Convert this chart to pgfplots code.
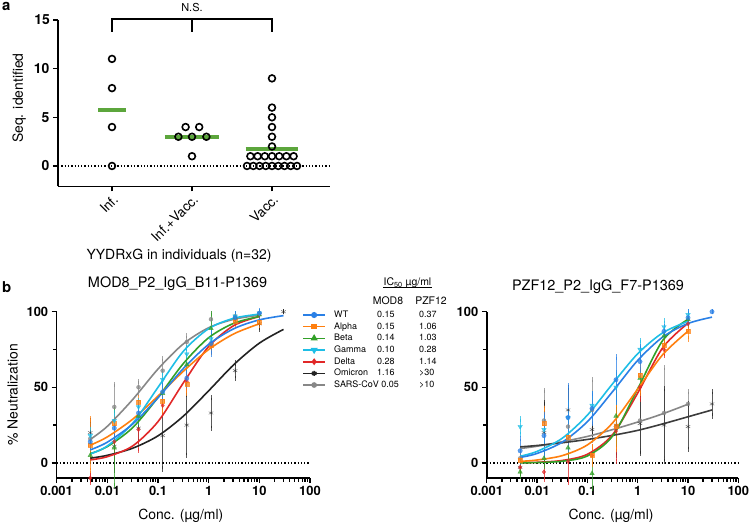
\documentclass[border=0pt]{standalone}
\usepackage{pgfplots}
\pgfplotsset{compat=1.18}
\usepackage{fontspec}
\setmainfont{TeX Gyre Heros}
\definecolor{cWT}{RGB}{42,128,230}
\definecolor{cAl}{RGB}{255,127,14}
\definecolor{cBe}{RGB}{50,160,40}
\definecolor{cGa}{RGB}{30,190,230}
\definecolor{cDe}{RGB}{225,40,40}
\definecolor{cOm}{RGB}{35,35,35}
\definecolor{cOmR}{RGB}{60,60,60}
\definecolor{cSA}{RGB}{135,135,135}
\definecolor{cMean}{RGB}{92,166,60}
\pgfplotsset{
 sWT/.style={color=cWT, mark=*, mark size=2.2bp},
 sAl/.style={color=cAl, mark=square*, mark size=2bp},
 sBe/.style={color=cBe, mark=triangle*, mark size=2.6bp},
 sGa/.style={color=cGa, mark=triangle*, mark size=2.6bp, mark options={rotate=180}},
 sDe/.style={color=cDe, mark=diamond*, mark size=2.2bp},
 sOm/.style={color=cOm, mark=asterisk, mark size=2.6bp},
 sSA/.style={color=cSA, mark=*, mark size=2bp},
 pts/.style={only marks, opacity=0.75, error bars/y dir=both, error bars/y explicit,
   error bars/error mark=|,
   error bars/error bar style={line width=0.9bp},
   error bars/error mark options={rotate=90, mark size=2.6bp, line width=0.9bp}},
 crv/.style={smooth, no markers, line width=1.6bp},
 leg/.style={line width=1.6bp, mark indices={2}},
 baseax/.style={scale only axis, anchor=south west, axis lines=left, clip=false,
   axis line style={line width=1.5bp,-}, tick align=outside,
   major tick length=5bp, minor tick length=3.5bp,
   every tick/.style={line width=1.3bp, black},
   label style={font=\fontsize{14}{16}\selectfont},
   title style={font=\fontsize{14.5}{16}\selectfont}},
 logax/.style={baseax, xmin=0.001, xmax=100, ymin=-10, ymax=100,
   width=253.3bp, height=166.3bp,
   ytick={0,50,100}, minor ytick={25,75},
   yticklabels={0,50,100},
   xtick={0.001,0.01,0.1,1,10,100}, xticklabels={0.001,0.01,0.1,1,10,100},
   minor xtick={0.002,0.003,0.004,0.005,0.006,0.007,0.008,0.009,0.02,0.03,0.04,0.05,0.06,0.07,0.08,0.09,0.2,0.3,0.4,0.5,0.6,0.7,0.8,0.9,2,3,4,5,6,7,8,9,20,30,40,50,60,70,80,90},
   xticklabel style={font=\fontsize{13}{15}\selectfont\bfseries},
   yticklabel style={font=\fontsize{13}{15}\selectfont\bfseries},
   xlabel={Conc. (µg/ml)}},
}
\tikzset{lt/.style={anchor=west, inner sep=0pt, text height=6.5bp, text depth=1.8bp, font=\fontsize{9}{10}\selectfont}}
\begin{document}
\begin{tikzpicture}
\useasboundingbox (0,0) rectangle (749bp,525bp);
% ---------------- panel a
\begin{axis}[baseax, at={(58bp,338.6bp)}, width=272bp, height=166.6bp,
  xmin=-0.675, xmax=2.725, ymin=-2.1, ymax=15.02,
  xtick={0,1,2}, xticklabels={Inf.,Inf.+Vacc.,Vacc.}, ytick={0,5,10}, yticklabels={\textbf{0},\textbf{5},\textbf{10}},
  xticklabel style={rotate=45, anchor=north east, inner sep=1.5bp, font=\fontsize{13.5}{15}\selectfont},
  yticklabel style={font=\fontsize{14}{16}\selectfont\bfseries},
  ylabel={Seq. identified}, ylabel style={at={(axis description cs:-0.143,0.53)}, anchor=center},
  xlabel={YYDRxG in individuals (n=32)}, xlabel style={at={(axis description cs:0.445,-0.416)}, anchor=center}]
\addplot[black, line width=1.3bp, dash pattern=on 1.3bp off 2bp] coordinates {(-0.675,0) (2.725,0)};
\addplot[cMean, line width=4bp] coordinates {(-0.17,5.76) (0.17,5.76)};
\addplot[cMean, line width=4bp] coordinates {(0.66,3.0) (1.34,3.0)};
\addplot[cMean, line width=4bp] coordinates {(1.67,1.72) (2.33,1.72)};
\addplot[only marks, black, mark=o, mark size=3.4bp, mark options={line width=1.6bp}] coordinates {
 (0,11) (0,8) (0,4) (0,0)
 (0.92,4) (1.09,4) (0.83,3) (1,3) (1.18,3) (1,1)
 (2,9) (2,6) (2,5) (2,4) (2,3) (2,2)
 (1.73,1) (1.82,1) (1.91,1) (2,1) (2.09,1) (2.18,1) (2.27,1)
 (1.6875,0) (1.766,0) (1.844,0) (1.922,0) (2,0) (2.078,0) (2.156,0) (2.234,0) (2.3125,0)};
\draw[line width=1.3bp] (axis cs:0,13.8) -- (axis cs:0,15.1) -- (axis cs:2,15.1) -- (axis cs:2,13.8);
\draw[line width=1.3bp] (axis cs:1,15.1) -- (axis cs:1,13.8);
\node[font=\fontsize{11}{12}\selectfont] at (axis cs:1,16.3) {N.S.};
\end{axis}
% ---------------- panel b left
\begin{semilogxaxis}[logax, at={(56.7bp,47bp)},
  title={MOD8\_P2\_IgG\_B11-P1369}, title style={at={(axis description cs:0.477,1.13)}, anchor=center},
  ylabel={\% Neutralization}, ylabel style={at={(axis description cs:-0.174,0.5)}, anchor=center},
  xlabel style={at={(axis description cs:0.49,-0.228)}, anchor=center}]
\addplot[black, line width=1.3bp, dash pattern=on 1.3bp off 2bp] coordinates {(0.001,0) (100,0)};
% points
\addplot[sSA, pts] coordinates {(0.0046,16) +- (0,4) (0.0137,37) +- (0,15) (0.0412,50) +- (0,4) (0.1235,61) +- (0,8) (0.37,80) +- (0,4) (1.11,95) +- (0,4) (3.33,97) +- (0,2) (10,99) +- (0,1)};
\addplot[sOm, pts] coordinates {(0.0046,20) +- (0,8) (0.0137,11) +- (0,16) (0.0412,23) +- (0,9) (0.1235,18) +- (0,22) (0.37,25) +- (0,20) (1.11,33) +- (0,10) (3.33,61) +- (0,5) (10,92) +- (0,4) (30,100) +- (0,0)};
\addplot[sDe, pts] coordinates {(0.0046,-10) +- (0,3) (0.0137,14) +- (0,8) (0.0412,22) +- (0,14) (0.1235,38) +- (0,6) (0.37,54) +- (0,6) (1.11,78) +- (0,4) (3.33,95) +- (0,3) (10,98) +- (0,2)};
\addplot[sBe, pts] coordinates {(0.0046,5) +- (0,3) (0.0137,10) +- (0,25) (0.0412,31) +- (0,7) (0.1235,46) +- (0,5) (0.37,65) +- (0,5) (1.11,89) +- (0,10) (3.33,96) +- (0,2) (10,98) +- (0,2)};
\addplot[sAl, pts] coordinates {(0.0046,12) +- (0,17) (0.0137,26) +- (0,5) (0.0412,40) +- (0,3) (0.1235,41) +- (0,8) (0.37,52) +- (0,6) (1.11,78) +- (0,5) (3.33,94) +- (0,3) (10,93) +- (0,2)};
\addplot[sGa, pts] coordinates {(0.0046,18) +- (0,4) (0.0137,28) +- (0,5) (0.0412,37) +- (0,4) (0.1235,55) +- (0,5) (0.37,72) +- (0,4) (1.11,82) +- (0,4) (3.33,97) +- (0,2) (10,99) +- (0,1)};
\addplot[sWT, pts] coordinates {(0.0046,14) +- (0,4) (0.0137,23) +- (0,5) (0.0412,33) +- (0,6) (0.1235,47) +- (0,5) (0.37,56) +- (0,5) (1.11,79) +- (0,7) (3.33,96) +- (0,3) (10,99) +- (0,2)};
% fitted curves
\addplot[crv, cSA] coordinates {(0.0046,15.5) (0.01,24.2) (0.0316,41.9) (0.1,62.1) (0.316,78.7) (1,89.4) (3.16,95.0) (10,97.7)};
\addplot[crv, cOm] coordinates {(0.0046,3.1) (0.01,5.0) (0.0316,9.7) (0.1,17.9) (0.316,30.9) (1,47.7) (3.16,65.1) (10,79.2) (30,88.3)};
\addplot[crv, cDe] coordinates {(0.0046,2.0) (0.01,4.1) (0.0316,11.2) (0.1,27.3) (0.316,52.9) (1,77.0) (3.16,90.9) (10,96.8)};
\addplot[crv, cBe] coordinates {(0.0046,6.1) (0.01,10.8) (0.0316,23.3) (0.1,43.3) (0.316,65.7) (1,82.8) (3.16,92.4) (10,96.8)};
\addplot[crv, cAl] coordinates {(0.0046,11.7) (0.01,17.2) (0.0316,28.9) (0.1,44.2) (0.316,60.6) (1,75.0) (3.16,85.4) (10,92.0)};
\addplot[crv, cGa] coordinates {(0.0046,5.9) (0.01,11.2) (0.0316,26.2) (0.1,50) (0.316,73.8) (1,88.8) (3.16,95.7) (10,98.4)};
\addplot[crv, cWT] coordinates {(0.0046,8.6) (0.01,13.7) (0.0316,25.7) (0.1,43.1) (0.316,62.4) (1,78.4) (3.16,88.8) (10,94.6) (30,97.4)};
% legend samples (line + marker), right of the axis
\addplot[sWT, leg] coordinates {(73.8,97.8) (120.8,97.8) (197.7,97.8)};
\addplot[sAl, leg] coordinates {(73.8,90.1) (120.8,90.1) (197.7,90.1)};
\addplot[sBe, leg] coordinates {(73.8,82.4) (120.8,82.4) (197.7,82.4)};
\addplot[sGa, leg] coordinates {(73.8,74.7) (120.8,74.7) (197.7,74.7)};
\addplot[sDe, leg] coordinates {(73.8,66.9) (120.8,66.9) (197.7,66.9)};
\addplot[sOm, leg] coordinates {(73.8,59.2) (120.8,59.2) (197.7,59.2)};
\addplot[sSA, leg] coordinates {(73.8,51.5) (120.8,51.5) (197.7,51.5)};
\end{semilogxaxis}
% ---------------- panel b right
\begin{semilogxaxis}[logax, at={(486.8bp,47bp)}, width=251.5bp,
  title={PZF12\_P2\_IgG\_F7-P1369}, title style={at={(axis description cs:0.442,1.115)}, anchor=center},
  xlabel style={at={(axis description cs:0.494,-0.228)}, anchor=center}]
\addplot[black, line width=1.3bp, dash pattern=on 1.3bp off 2bp] coordinates {(0.001,0) (100,0)};
\addplot[sSA, pts] coordinates {(0.0046,3) +- (0,6) (0.0137,28) +- (0,20) (0.0412,24) +- (0,4) (0.1235,35) +- (0,20) (0.37,24) +- (0,8) (1.11,28) +- (0,20) (3.33,33) +- (0,30) (10,39) +- (0,8)};
\addplot[sOm, pts] coordinates {(0.0046,-3) +- (0,4) (0.0137,20) +- (0,20) (0.0412,35) +- (0,15) (0.1235,22) +- (0,3) (0.37,25) +- (0,20) (1.11,26) +- (0,20) (3.33,25) +- (0,24) (10,24) +- (0,15) (30,39) +- (0,8)};
\addplot[sDe, pts] coordinates {(0.0046,-3) +- (0,3) (0.0137,-6) +- (0,5) (0.0412,1) +- (0,14) (0.1235,5) +- (0,6) (0.37,21) +- (0,20) (1.11,50) +- (0,8) (3.33,75) +- (0,4) (10,92) +- (0,3)};
\addplot[sBe, pts] coordinates {(0.0046,-6) +- (0,3) (0.0137,3) +- (0,5) (0.0412,10) +- (0,8) (0.1235,-7) +- (0,10) (0.37,31) +- (0,18) (1.11,56) +- (0,6) (3.33,84) +- (0,4) (10,95) +- (0,4)};
\addplot[sAl, pts] coordinates {(0.0046,2) +- (0,5) (0.0137,26) +- (0,10) (0.0412,17) +- (0,4) (0.1235,5) +- (0,6) (0.37,24) +- (0,15) (1.11,58) +- (0,12) (3.33,78) +- (0,4) (10,87) +- (0,5)};
\addplot[sGa, pts] coordinates {(0.0046,24) +- (0,5) (0.0137,22) +- (0,8) (0.0412,30) +- (0,10) (0.1235,38) +- (0,8) (0.37,50) +- (0,10) (1.11,75) +- (0,6) (3.33,90) +- (0,4) (10,98) +- (0,2)};
\addplot[sWT, pts] coordinates {(0.0046,8) +- (0,8) (0.0137,18) +- (0,14) (0.0412,30) +- (0,21) (0.1235,36) +- (0,10) (0.37,55) +- (0,15) (1.11,67) +- (0,10) (3.33,87) +- (0,3) (10,96) +- (0,4) (30,100) +- (0,0)};
\addplot[crv, cSA] coordinates {(0.0046,9.5) (0.01,11) (0.0316,14) (0.1,17.5) (0.316,22) (1,27) (3.16,32.5) (10,38.8)};
\addplot[crv, cOmR] coordinates {(0.0046,10.6) (0.01,11.5) (0.0316,13.3) (0.1,15.5) (0.316,18.2) (1,21.5) (3.16,25.8) (10,30.5) (30,35)};
\addplot[crv, cDe] coordinates {(0.0046,0.2) (0.01,0.4) (0.0316,1.6) (0.1,5.7) (0.316,18.6) (1,46.2) (3.16,76.3) (10,92.4)};
\addplot[crv, cBe] coordinates {(0.0046,0.1) (0.01,0.2) (0.0316,1.1) (0.1,4.6) (0.316,17.7) (1,49.0) (3.16,81.1) (10,95.0)};
\addplot[crv, cAl] coordinates {(0.0046,1.0) (0.01,1.9) (0.0316,4.8) (0.1,11.9) (0.316,26.4) (1,48.8) (3.16,71.7) (10,87.1)};
\addplot[crv, cGa] coordinates {(0.0046,4.4) (0.01,7.6) (0.0316,16.3) (0.1,31.6) (0.316,52.3) (1,72.2) (3.16,86.1) (10,93.6)};
\addplot[crv, cWT] coordinates {(0.0046,3.6) (0.01,6.25) (0.0316,13.7) (0.1,27.3) (0.316,47.1) (1,67.8) (3.16,83.3) (10,92.2) (30,96.4)};
\end{semilogxaxis}
% ---------------- texts
\node[anchor=base west, inner sep=0pt, font=\fontsize{15}{16}\selectfont\bfseries] at (2bp,514bp) {a};
\node[anchor=base west, inner sep=0pt, font=\fontsize{15}{16}\selectfont\bfseries] at (2bp,232bp) {b};
\node[font=\fontsize{10.5}{12}\selectfont] at (407.5bp,242bp) {IC\textsubscript{50} µg/ml};
\draw[line width=0.7bp] (383bp,237.5bp) -- (432bp,237.5bp);
\node[font=\fontsize{10.5}{12}\selectfont] at (388bp,224.3bp) {MOD8};
\node[font=\fontsize{10.5}{12}\selectfont] at (431bp,224.3bp) {PZF12};
% legend texts
\node[lt] at (334bp,210bp) {WT};       \node[lt] at (377bp,210bp) {0.15};    \node[lt] at (419bp,210bp) {0.37};
\node[lt] at (334bp,198.33bp) {Alpha}; \node[lt] at (377bp,198.33bp) {0.15}; \node[lt] at (419bp,198.33bp) {1.06};
\node[lt] at (334bp,186.67bp) {Beta};  \node[lt] at (377bp,186.67bp) {0.14}; \node[lt] at (419bp,186.67bp) {1.03};
\node[lt] at (334bp,175bp) {Gamma};    \node[lt] at (377bp,175bp) {0.10};    \node[lt] at (419bp,175bp) {0.28};
\node[lt] at (334bp,163.33bp) {Delta}; \node[lt] at (377bp,163.33bp) {0.28}; \node[lt] at (419bp,163.33bp) {1.14};
\node[lt] at (334bp,151.67bp) {Omicron}; \node[lt] at (377bp,151.67bp) {1.16}; \node[lt] at (419bp,151.67bp) {>30};
\node[lt] at (334bp,140bp) {SARS-CoV 0.05}; \node[lt] at (419bp,140bp) {>10};
% top tick of panel a
\draw[line width=1.3bp] (58bp,505bp) -- (52.5bp,505bp);
\node[anchor=east, inner sep=0pt, font=\fontsize{14}{16}\selectfont\bfseries] at (50bp,505bp) {15};
\end{tikzpicture}
\end{document}
